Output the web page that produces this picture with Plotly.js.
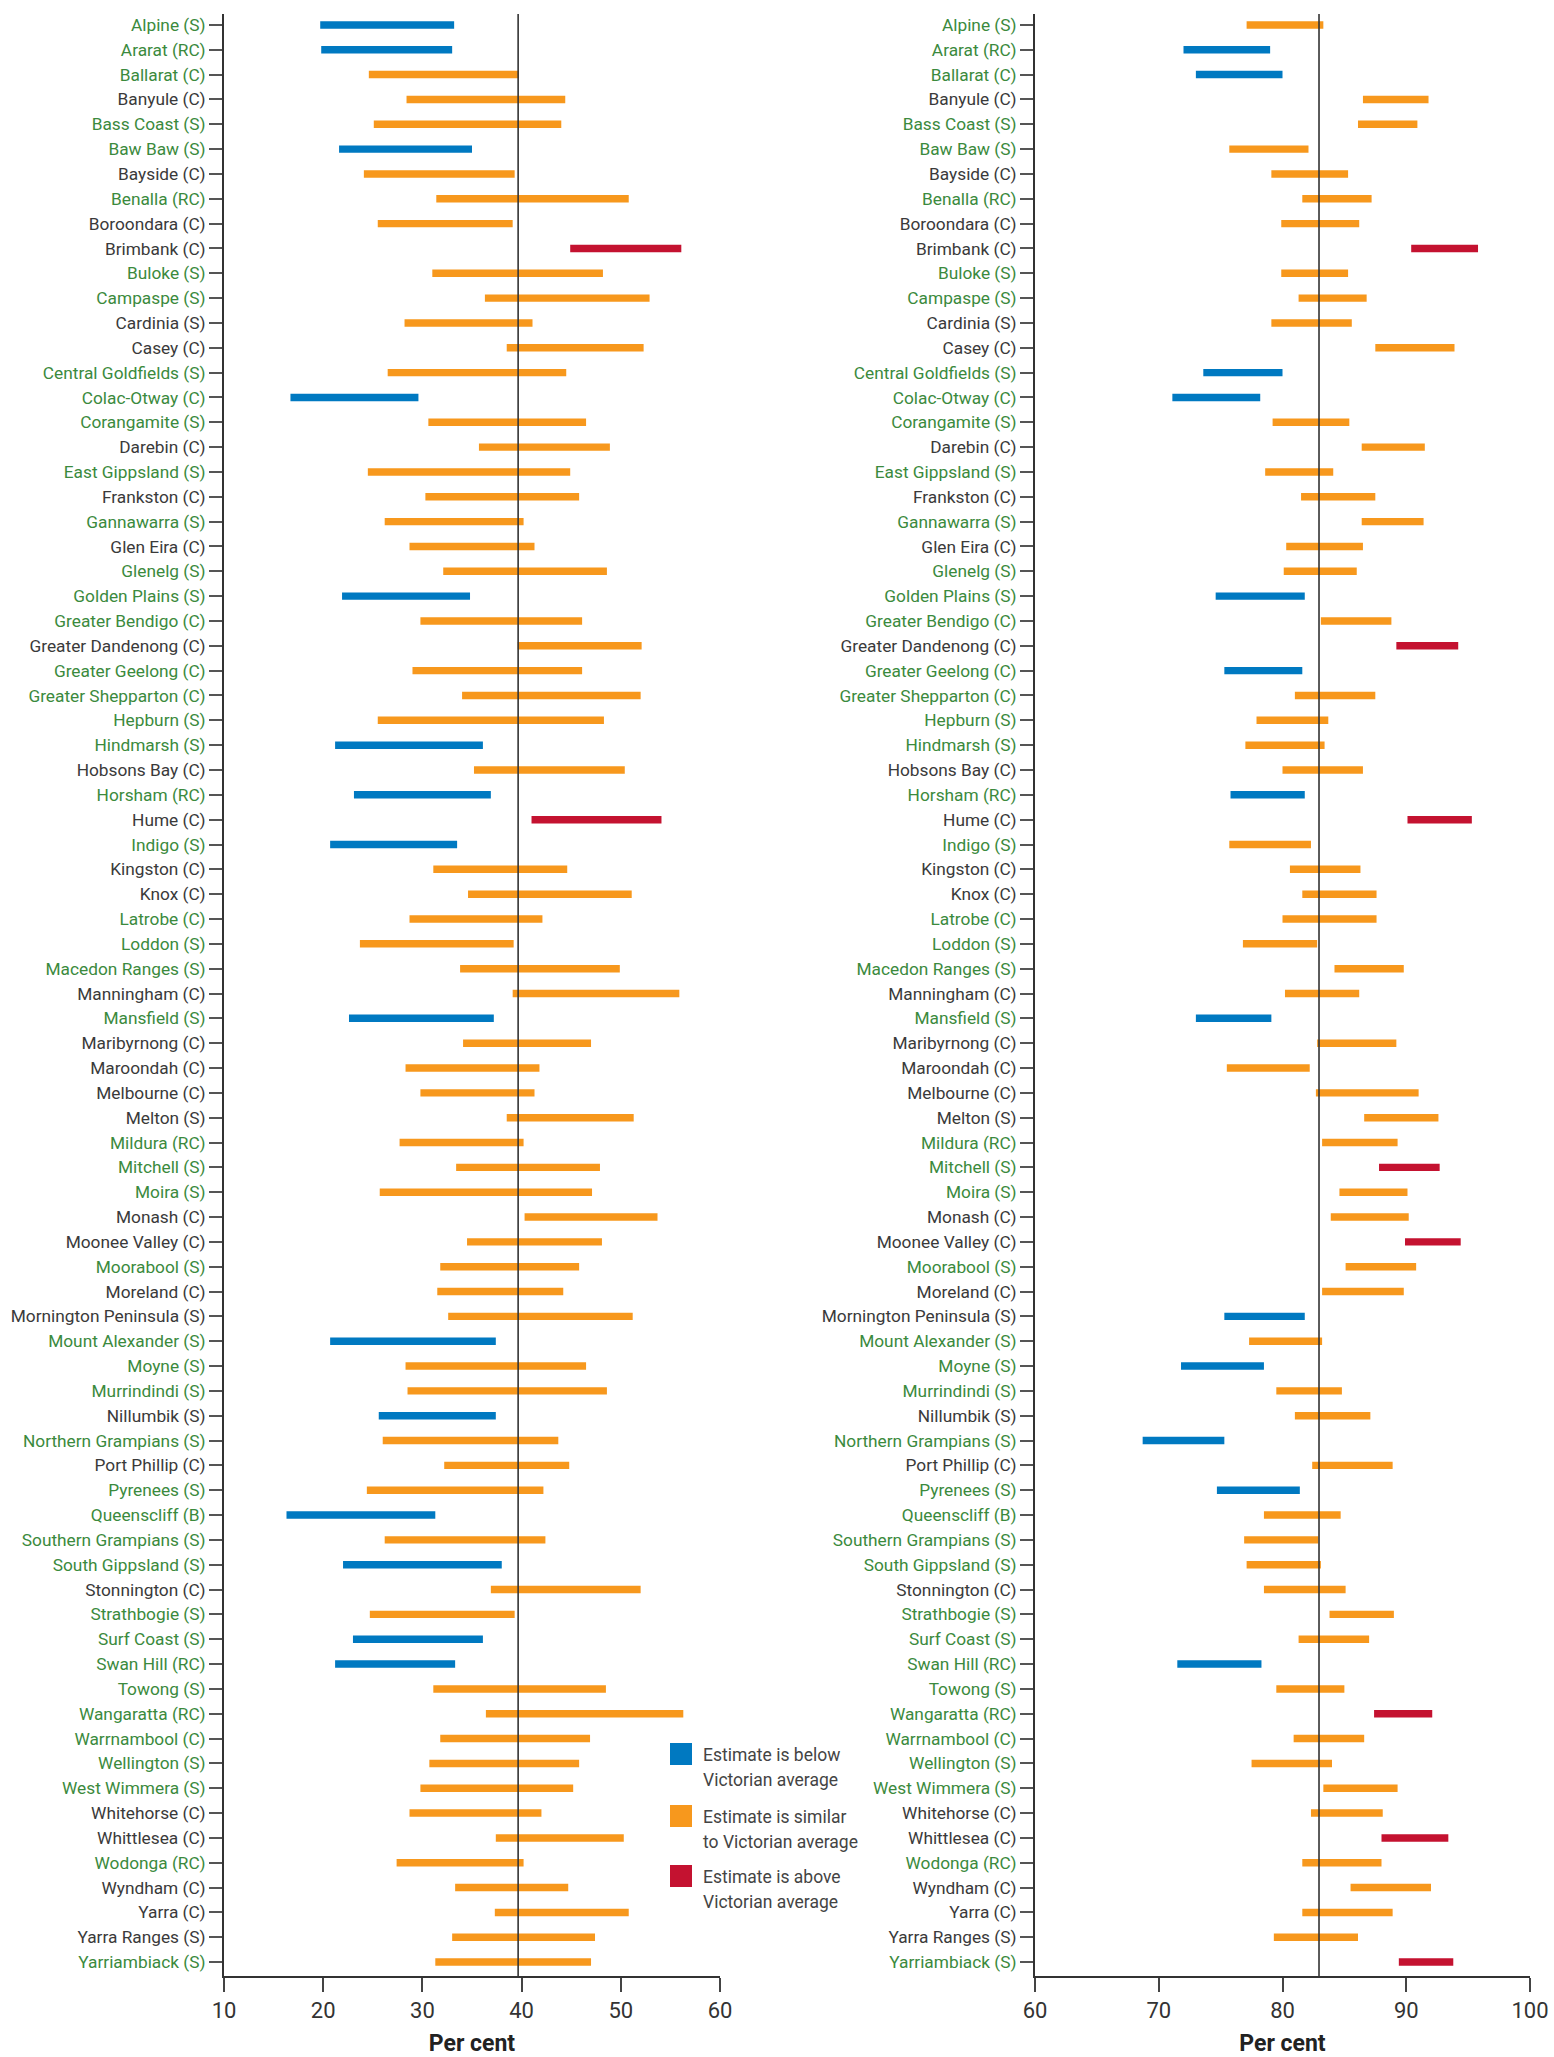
<!DOCTYPE html>
<html><head><meta charset="utf-8">
<script src="https://cdn.plot.ly/plotly-3.0.1.min.js"></script>
<style>html,body{margin:0;padding:0;background:#fff}</style>
</head><body>
<div id="chart" style="width:1554px;height:2057px"></div>
<script>
// ---- DATA ----
const councils = ["Alpine (S)","Ararat (RC)","Ballarat (C)","Banyule (C)","Bass Coast (S)","Baw Baw (S)","Bayside (C)","Benalla (RC)","Boroondara (C)","Brimbank (C)","Buloke (S)","Campaspe (S)","Cardinia (S)","Casey (C)","Central Goldfields (S)","Colac-Otway (C)","Corangamite (S)","Darebin (C)","East Gippsland (S)","Frankston (C)","Gannawarra (S)","Glen Eira (C)","Glenelg (S)","Golden Plains (S)","Greater Bendigo (C)","Greater Dandenong (C)","Greater Geelong (C)","Greater Shepparton (C)","Hepburn (S)","Hindmarsh (S)","Hobsons Bay (C)","Horsham (RC)","Hume (C)","Indigo (S)","Kingston (C)","Knox (C)","Latrobe (C)","Loddon (S)","Macedon Ranges (S)","Manningham (C)","Mansfield (S)","Maribyrnong (C)","Maroondah (C)","Melbourne (C)","Melton (S)","Mildura (RC)","Mitchell (S)","Moira (S)","Monash (C)","Moonee Valley (C)","Moorabool (S)","Moreland (C)","Mornington Peninsula (S)","Mount Alexander (S)","Moyne (S)","Murrindindi (S)","Nillumbik (S)","Northern Grampians (S)","Port Phillip (C)","Pyrenees (S)","Queenscliff (B)","Southern Grampians (S)","South Gippsland (S)","Stonnington (C)","Strathbogie (S)","Surf Coast (S)","Swan Hill (RC)","Towong (S)","Wangaratta (RC)","Warrnambool (C)","Wellington (S)","West Wimmera (S)","Whitehorse (C)","Whittlesea (C)","Wodonga (RC)","Wyndham (C)","Yarra (C)","Yarra Ranges (S)","Yarriambiack (S)"];

// R = rural (green label), M = metropolitan (grey label)
const councilType = ["R","R","R","M","R","R","M","R","M","M","R","R","M","M","R","R","R","M","R","M","R","M","R","R","R","M","R","R","R","R","M","R","M","R","M","M","R","R","R","M","R","M","M","M","M","R","R","R","M","M","R","M","M","R","R","R","M","R","M","R","R","R","R","M","R","R","R","R","R","R","R","R","M","M","R","M","M","M","R"];

// Left panel: lower and upper estimate (per cent)
const leftLow = [19.7,19.8,24.6,28.4,25.1,21.6,24.1,31.4,25.5,44.9,31.0,36.3,28.2,38.5,26.5,16.7,30.6,35.7,24.5,30.3,26.2,28.7,32.1,21.9,29.8,39.6,29.0,34.0,25.5,21.2,35.2,23.1,41.0,20.7,31.1,34.6,28.7,23.7,33.8,39.1,22.6,34.1,28.3,29.8,38.5,27.7,33.4,25.7,40.3,34.5,31.8,31.5,32.6,20.7,28.3,28.5,25.6,26.0,32.2,24.4,16.3,26.2,22.0,36.9,24.7,23.0,21.2,31.1,36.4,31.8,30.7,29.8,28.7,37.4,27.4,33.3,37.3,33.0,31.3];
const leftHigh = [33.2,33.0,39.7,44.4,44.0,35.0,39.3,50.8,39.1,56.1,48.2,52.9,41.1,52.3,44.5,29.6,46.5,48.9,44.9,45.8,40.2,41.3,48.6,34.8,46.1,52.1,46.1,52.0,48.3,36.1,50.4,36.9,54.1,33.5,44.6,51.1,42.1,39.2,49.9,55.9,37.2,47.0,41.8,41.3,51.3,40.2,47.9,47.1,53.7,48.1,45.8,44.2,51.2,37.4,46.5,48.6,37.4,43.7,44.8,42.2,31.3,42.4,38.0,52.0,39.3,36.1,33.3,48.5,56.3,46.9,45.8,45.2,42.0,50.3,40.2,44.7,50.8,47.4,47.0];
// B = below, S = similar, A = above Victorian average
const leftStatus = ["B","B","S","S","S","B","S","S","S","A","S","S","S","S","S","B","S","S","S","S","S","S","S","B","S","S","S","S","S","B","S","B","A","B","S","S","S","S","S","S","B","S","S","S","S","S","S","S","S","S","S","S","S","B","S","S","B","S","S","S","B","S","B","S","S","B","B","S","S","S","S","S","S","S","S","S","S","S","S"];
const leftAverage = 39.65;

// Right panel
const rightLow = [77.1,72.0,73.0,86.5,86.1,75.7,79.1,81.6,79.9,90.4,79.9,81.3,79.1,87.5,73.6,71.1,79.2,86.4,78.6,81.5,86.4,80.3,80.1,74.6,83.1,89.2,75.3,81.0,77.9,77.0,80.0,75.8,90.1,75.7,80.6,81.6,80.0,76.8,84.2,80.2,73.0,82.8,75.5,82.7,86.6,83.2,87.8,84.6,83.9,89.9,85.1,83.2,75.3,77.3,71.8,79.5,81.0,68.7,82.4,74.7,78.5,76.9,77.1,78.5,83.8,81.3,71.5,79.5,87.4,80.9,77.5,83.3,82.3,88.0,81.6,85.5,81.6,79.3,89.4];
const rightHigh = [83.3,79.0,80.0,91.8,90.9,82.1,85.3,87.2,86.2,95.8,85.3,86.8,85.6,93.9,80.0,78.2,85.4,91.5,84.1,87.5,91.4,86.5,86.0,81.8,88.8,94.2,81.6,87.5,83.7,83.4,86.5,81.8,95.3,82.3,86.3,87.6,87.6,82.8,89.8,86.2,79.1,89.2,82.2,91.0,92.6,89.3,92.7,90.1,90.2,94.4,90.8,89.8,81.8,83.2,78.5,84.8,87.1,75.3,88.9,81.4,84.7,82.9,83.1,85.1,89.0,87.0,78.3,85.0,92.1,86.6,84.0,89.3,88.1,93.4,88.0,92.0,88.9,86.1,93.8];
const rightStatus = ["S","B","B","S","S","S","S","S","S","A","S","S","S","S","B","B","S","S","S","S","S","S","S","B","S","A","B","S","S","S","S","B","A","S","S","S","S","S","S","S","B","S","S","S","S","S","A","S","S","A","S","S","B","S","B","S","S","B","S","B","S","S","S","S","S","S","B","S","A","S","S","S","S","A","S","S","S","S","A"];
const rightAverage = 82.95;

const leftTicks = [10,20,30,40,50,60];
const rightTicks = [60,70,80,90,100];
const legendLabels = [["Estimate is below","Victorian average"],["Estimate is similar","to Victorian average"],["Estimate is above","Victorian average"]];
const legendKeys = ["B","S","A"];
const axisTitle = "Per cent";

// ---- STYLE ----
const statusColor = {B:"#0079c1", S:"#f7981d", A:"#c41230"};
const labelColor = {R:"#3b8a3d", M:"#3a3a3a"};
const W = 1554, H = 2057;
const FONT = "Roboto, 'Open Sans', sans-serif";

const idx = councils.map((_, i) => i);
const tickText = councils.map((c, i) => '<span style="color:' + labelColor[councilType[i]] + '">' + c + '</span>');

function barTrace(low, high, status, xa, ya) {
  return {
    type: "bar", orientation: "h", y: idx, base: low,
    x: high.map((h, i) => h - low[i]), width: 0.3,
    marker: {color: status.map(s => statusColor[s]), line: {width: 0}},
    xaxis: xa, yaxis: ya, hoverinfo: "skip"
  };
}

const yAxisBase = {
  range: [78.56, -0.44], tickvals: idx, ticktext: tickText,
  ticks: "outside", ticklen: 13, tickwidth: 2, tickcolor: "#555",
  showline: true, linecolor: "#333", linewidth: 2,
  showgrid: false, zeroline: false, fixedrange: true,
  tickfont: {size: 17.3, family: FONT}, automargin: false
};
const xAxisBase = {
  ticks: "outside", ticklen: 14, tickwidth: 2, tickcolor: "#444",
  showline: true, linecolor: "#333", linewidth: 2,
  showgrid: false, zeroline: false, fixedrange: true,
  tickfont: {size: 22, color: "#333", family: FONT}, automargin: false,
  title: {text: "<b>" + axisTitle + "</b>", font: {size: 23, color: "#222", family: FONT}, standoff: 14}
};

const px = x => x / W;
const py = y => (2057 - 81 - y) / (2057 - 81 - 14);

const shapes = [
  {type: "line", xref: "x", yref: "y domain", x0: leftAverage, x1: leftAverage, y0: 0, y1: 1, line: {color: "#333", width: 1.6}},
  {type: "line", xref: "x2", yref: "y2 domain", x0: rightAverage, x1: rightAverage, y0: 0, y1: 1, line: {color: "#333", width: 1.6}}
];
const annotations = [];
const legendTop = [1743, 1805, 1865];
legendKeys.forEach((k, i) => {
  const t = legendTop[i];
  shapes.push({type: "rect", xref: "paper", yref: "paper", x0: px(670), x1: px(692), y0: py(t), y1: py(t + 22), fillcolor: statusColor[k], line: {width: 0}});
  legendLabels[i].forEach((line, j) => {
    annotations.push({xref: "paper", yref: "paper", x: px(701), y: py(t + 12 + j * 24.5), xanchor: "left", yanchor: "middle", showarrow: false, text: line, font: {size: 17.5, color: "#444", family: FONT}});
  });
});

const layout = {
  width: W, height: H,
  margin: {l: 0, r: 0, t: 14, b: 81},
  paper_bgcolor: "#fff", plot_bgcolor: "rgba(0,0,0,0)",
  font: {family: FONT, color: "#333"},
  showlegend: false, barmode: "overlay",
  xaxis: Object.assign({}, xAxisBase, {domain: [px(224), px(720)], range: [10, 60], tickvals: leftTicks, anchor: "y"}),
  yaxis: Object.assign({}, yAxisBase, {anchor: "x"}),
  xaxis2: Object.assign({}, xAxisBase, {domain: [px(1035), px(1530)], range: [60, 100], tickvals: rightTicks, anchor: "y2"}),
  yaxis2: Object.assign({}, yAxisBase, {anchor: "x2"}),
  shapes: shapes, annotations: annotations
};

Plotly.newPlot("chart", [
  barTrace(leftLow, leftHigh, leftStatus, "x", "y"),
  barTrace(rightLow, rightHigh, rightStatus, "x2", "y2")
], layout, {staticPlot: true, displayModeBar: false});
</script>
</body></html>
